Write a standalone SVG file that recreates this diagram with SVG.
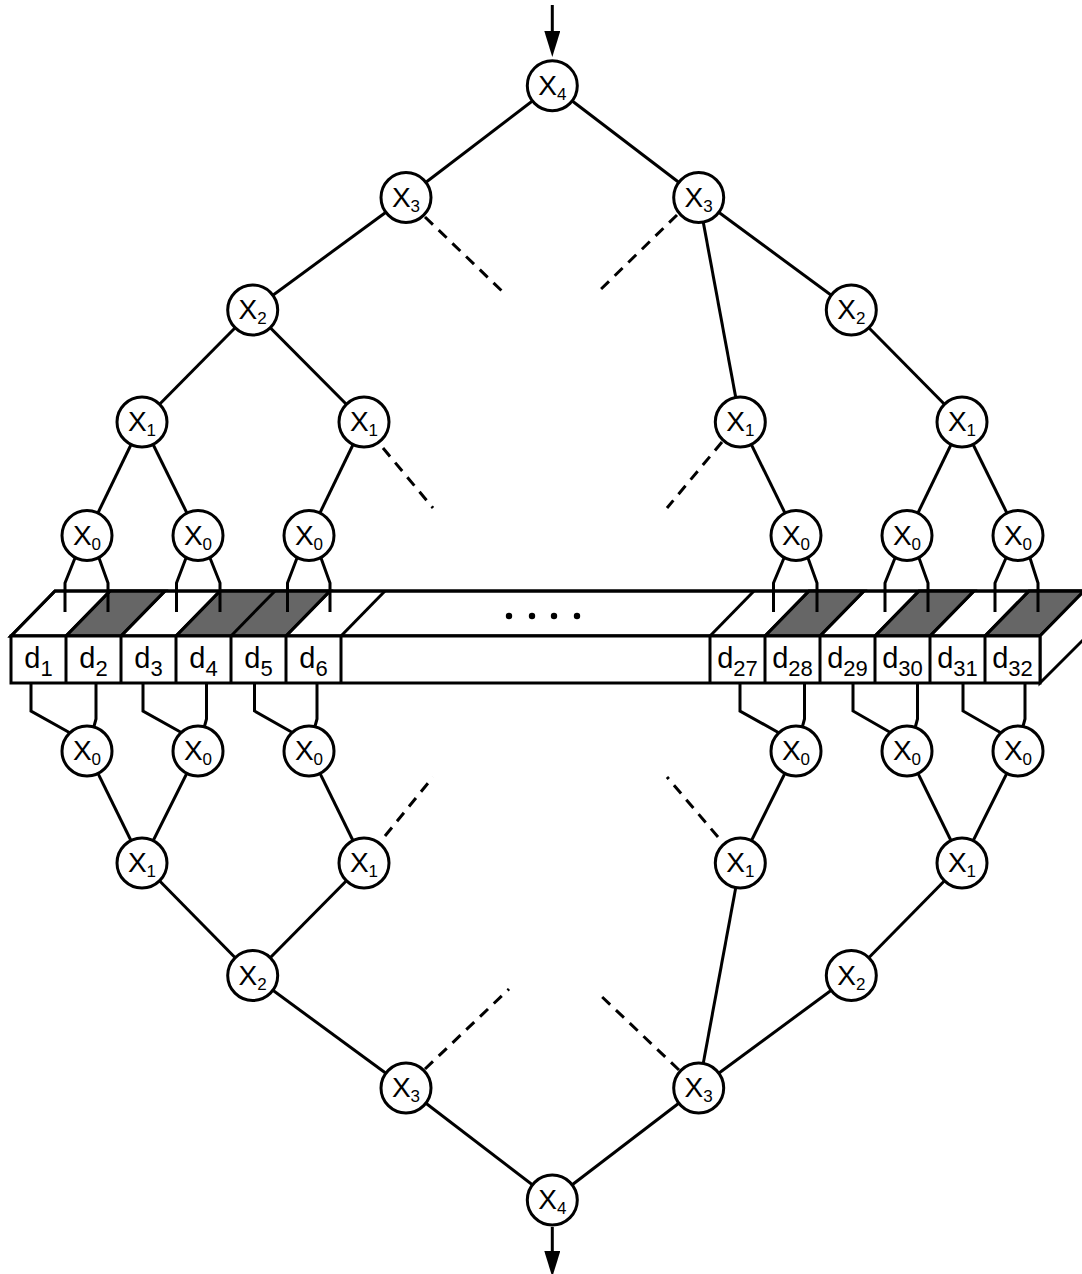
<svg xmlns="http://www.w3.org/2000/svg" width="1082" height="1274" viewBox="0 0 1082 1274">
<style>
.e line, .e polyline { stroke:#000; stroke-width:3; fill:none; }
.dash { stroke-dasharray:11 8; }
.n circle { fill:#fff; stroke:#000; stroke-width:3; }
.lbl { font-family:"Liberation Sans", Arial, Helvetica, sans-serif; font-size:28px; text-anchor:middle; fill:#000; }
.sub { font-size:17px; }
.reg polygon, .reg rect, .reg line { stroke:#000; stroke-width:3; stroke-linejoin:miter; }
.face { fill:#fff; }
.shade { fill:#666; }
.cl { font-family:"Liberation Sans", Arial, Helvetica, sans-serif; font-size:29px; text-anchor:middle; fill:#000; }
.cs { font-size:22px; }
</style>
<defs>
<marker id="ah" markerUnits="userSpaceOnUse" markerWidth="26" markerHeight="16" viewBox="0 0 26 16" refX="14" refY="8" orient="auto">
<path d="M0,0 L26,8 L0,16 z" fill="#000"/>
</marker>
</defs>

<g id="register" class="reg">
<polygon class="face" points="11,636 55,591 1084,591 1040,636"/>
<polygon class="shade" points="66,636 121,636 165,591 110,591"/>
<polygon class="shade" points="176,636 286,636 330,591 220,591"/>
<polygon class="shade" points="765,636 820,636 864,591 809,591"/>
<polygon class="shade" points="875,636 930,636 974,591 919,591"/>
<polygon class="shade" points="985,636 1040,636 1084,591 1029,591"/>
<polygon points="11,636 55,591 1084,591 1040,636" style="fill:none"/>
<line x1="66" y1="636" x2="110" y2="591"/>
<line x1="121" y1="636" x2="165" y2="591"/>
<line x1="176" y1="636" x2="220" y2="591"/>
<line x1="231" y1="636" x2="275" y2="591"/>
<line x1="286" y1="636" x2="330" y2="591"/>
<line x1="341" y1="636" x2="385" y2="591"/>
<line x1="710" y1="636" x2="754" y2="591"/>
<line x1="765" y1="636" x2="809" y2="591"/>
<line x1="820" y1="636" x2="864" y2="591"/>
<line x1="875" y1="636" x2="919" y2="591"/>
<line x1="930" y1="636" x2="974" y2="591"/>
<line x1="985" y1="636" x2="1029" y2="591"/>
<polygon class="face" points="1040,636 1084,591 1084,639 1040,683"/>
<rect class="face" x="11" y="636" width="1029" height="47"/>
<line x1="66" y1="636" x2="66" y2="683"/>
<line x1="121" y1="636" x2="121" y2="683"/>
<line x1="176" y1="636" x2="176" y2="683"/>
<line x1="231" y1="636" x2="231" y2="683"/>
<line x1="286" y1="636" x2="286" y2="683"/>
<line x1="341" y1="636" x2="341" y2="683"/>
<line x1="710" y1="636" x2="710" y2="683"/>
<line x1="765" y1="636" x2="765" y2="683"/>
<line x1="820" y1="636" x2="820" y2="683"/>
<line x1="875" y1="636" x2="875" y2="683"/>
<line x1="930" y1="636" x2="930" y2="683"/>
<line x1="985" y1="636" x2="985" y2="683"/>
<circle cx="509" cy="616" r="3.2" fill="#000"/>
<circle cx="532" cy="616" r="3.2" fill="#000"/>
<circle cx="554" cy="616" r="3.2" fill="#000"/>
<circle cx="577" cy="616" r="3.2" fill="#000"/>
<text class="cl" x="38.5" y="668">d<tspan class="cs" dy="8">1</tspan></text>
<text class="cl" x="93.5" y="668">d<tspan class="cs" dy="8">2</tspan></text>
<text class="cl" x="148.5" y="668">d<tspan class="cs" dy="8">3</tspan></text>
<text class="cl" x="203.5" y="668">d<tspan class="cs" dy="8">4</tspan></text>
<text class="cl" x="258.5" y="668">d<tspan class="cs" dy="8">5</tspan></text>
<text class="cl" x="313.5" y="668">d<tspan class="cs" dy="8">6</tspan></text>
<text class="cl" x="737.5" y="668">d<tspan class="cs" dy="8">27</tspan></text>
<text class="cl" x="792.5" y="668">d<tspan class="cs" dy="8">28</tspan></text>
<text class="cl" x="847.5" y="668">d<tspan class="cs" dy="8">29</tspan></text>
<text class="cl" x="902.5" y="668">d<tspan class="cs" dy="8">30</tspan></text>
<text class="cl" x="957.5" y="668">d<tspan class="cs" dy="8">31</tspan></text>
<text class="cl" x="1012.5" y="668">d<tspan class="cs" dy="8">32</tspan></text>
</g>

<g id="connectors" class="e">
<line x1="552.3" y1="5" x2="552.3" y2="45" marker-end="url(#ah)"/>
<line x1="552.3" y1="1227" x2="552.3" y2="1265" marker-end="url(#ah)"/>
<line x1="552.3" y1="85.7" x2="406" y2="197.5"/>
<line x1="552.3" y1="85.7" x2="698.7" y2="197.5"/>
<line x1="406" y1="197.5" x2="252.7" y2="310"/>
<line x1="698.7" y1="197.5" x2="851.3" y2="310"/>
<line x1="698.7" y1="197.5" x2="740.3" y2="422"/>
<line x1="252.7" y1="310" x2="142" y2="422"/>
<line x1="252.7" y1="310" x2="364" y2="422"/>
<line x1="851.3" y1="310" x2="962" y2="422"/>
<line x1="142" y1="422" x2="87" y2="535.5"/>
<line x1="142" y1="422" x2="198" y2="535.5"/>
<line x1="364" y1="422" x2="309" y2="535.5"/>
<line x1="740.3" y1="422" x2="796" y2="535.5"/>
<line x1="962" y1="422" x2="907" y2="535.5"/>
<line x1="962" y1="422" x2="1018" y2="535.5"/>
<line class="dash" x1="425" y1="217" x2="503" y2="292"/>
<line class="dash" x1="677" y1="215" x2="598" y2="292"/>
<line class="dash" x1="383" y1="448" x2="433" y2="508"/>
<line class="dash" x1="722" y1="442" x2="667" y2="508"/>
<polyline points="75,558 65,583 65,612"/>
<polyline points="99,558 108,583 108,612"/>
<polyline points="186,558 176.5,583 176.5,612"/>
<polyline points="210,558 220,583 220,612"/>
<polyline points="297,558 287.5,583 287.5,612"/>
<polyline points="321,558 330,583 330,612"/>
<polyline points="784,558 773.5,583 773.5,612"/>
<polyline points="808,558 817,583 817,612"/>
<polyline points="895,558 885,583 885,612"/>
<polyline points="919,558 928,583 928,612"/>
<polyline points="1006,558 995,583 995,612"/>
<polyline points="1030,558 1038,583 1038,612"/>
<polyline points="31,683 31,711 72,734"/>
<polyline points="96,683 96,719 93,730"/>
<polyline points="143,683 143,711 184,734"/>
<polyline points="206.5,683 206.5,719 203.5,730"/>
<polyline points="254.5,683 254.5,711 295,734"/>
<polyline points="317,683 317,719 314,730"/>
<polyline points="740,683 740,711 781,734"/>
<polyline points="804.5,683 804.5,719 801.5,730"/>
<polyline points="853,683 853,711 893,734"/>
<polyline points="917.5,683 917.5,719 914.5,730"/>
<polyline points="963,683 963,711 1003,734"/>
<polyline points="1025,683 1025,719 1022,730"/>
<line x1="87" y1="751" x2="142" y2="863"/>
<line x1="198" y1="751" x2="142" y2="863"/>
<line x1="309" y1="751" x2="364" y2="863"/>
<line x1="796" y1="751" x2="740.3" y2="863"/>
<line x1="907" y1="751" x2="962" y2="863"/>
<line x1="1018" y1="751" x2="962" y2="863"/>
<line x1="142" y1="863" x2="252.7" y2="975.5"/>
<line x1="364" y1="863" x2="252.7" y2="975.5"/>
<line x1="962" y1="863" x2="851.3" y2="975.5"/>
<line x1="252.7" y1="975.5" x2="406" y2="1088"/>
<line x1="851.3" y1="975.5" x2="698.7" y2="1088"/>
<line x1="740.3" y1="863" x2="698.7" y2="1088"/>
<line x1="406" y1="1088" x2="552.3" y2="1200"/>
<line x1="698.7" y1="1088" x2="552.3" y2="1200"/>
<line class="dash" x1="385" y1="836" x2="433" y2="777"/>
<line class="dash" x1="718" y1="837" x2="667" y2="777"/>
<line class="dash" x1="425" y1="1069" x2="509" y2="989"/>
<line class="dash" x1="679" y1="1070" x2="598" y2="993"/>
</g>

<g id="t_x4" class="n"><circle cx="552.3" cy="85.7" r="25"/><text class="lbl" x="552.3" y="94.8">X<tspan class="sub" dy="5">4</tspan></text></g>
<g id="t_x3a" class="n"><circle cx="406" cy="197.5" r="25"/><text class="lbl" x="406" y="206.6">X<tspan class="sub" dy="5">3</tspan></text></g>
<g id="t_x3b" class="n"><circle cx="698.7" cy="197.5" r="25"/><text class="lbl" x="698.7" y="206.6">X<tspan class="sub" dy="5">3</tspan></text></g>
<g id="t_x2a" class="n"><circle cx="252.7" cy="310" r="25"/><text class="lbl" x="252.7" y="319.1">X<tspan class="sub" dy="5">2</tspan></text></g>
<g id="t_x2b" class="n"><circle cx="851.3" cy="310" r="25"/><text class="lbl" x="851.3" y="319.1">X<tspan class="sub" dy="5">2</tspan></text></g>
<g id="t_x1a" class="n"><circle cx="142" cy="422" r="25"/><text class="lbl" x="142" y="431.1">X<tspan class="sub" dy="5">1</tspan></text></g>
<g id="t_x1b" class="n"><circle cx="364" cy="422" r="25"/><text class="lbl" x="364" y="431.1">X<tspan class="sub" dy="5">1</tspan></text></g>
<g id="t_x1c" class="n"><circle cx="740.3" cy="422" r="25"/><text class="lbl" x="740.3" y="431.1">X<tspan class="sub" dy="5">1</tspan></text></g>
<g id="t_x1d" class="n"><circle cx="962" cy="422" r="25"/><text class="lbl" x="962" y="431.1">X<tspan class="sub" dy="5">1</tspan></text></g>
<g id="t_x0a" class="n"><circle cx="87" cy="535.5" r="25"/><text class="lbl" x="87" y="544.6">X<tspan class="sub" dy="5">0</tspan></text></g>
<g id="t_x0b" class="n"><circle cx="198" cy="535.5" r="25"/><text class="lbl" x="198" y="544.6">X<tspan class="sub" dy="5">0</tspan></text></g>
<g id="t_x0c" class="n"><circle cx="309" cy="535.5" r="25"/><text class="lbl" x="309" y="544.6">X<tspan class="sub" dy="5">0</tspan></text></g>
<g id="t_x0d" class="n"><circle cx="796" cy="535.5" r="25"/><text class="lbl" x="796" y="544.6">X<tspan class="sub" dy="5">0</tspan></text></g>
<g id="t_x0e" class="n"><circle cx="907" cy="535.5" r="25"/><text class="lbl" x="907" y="544.6">X<tspan class="sub" dy="5">0</tspan></text></g>
<g id="t_x0f" class="n"><circle cx="1018" cy="535.5" r="25"/><text class="lbl" x="1018" y="544.6">X<tspan class="sub" dy="5">0</tspan></text></g>

<g id="b_x0a" class="n"><circle cx="87" cy="751" r="25"/><text class="lbl" x="87" y="760.1">X<tspan class="sub" dy="5">0</tspan></text></g>
<g id="b_x0b" class="n"><circle cx="198" cy="751" r="25"/><text class="lbl" x="198" y="760.1">X<tspan class="sub" dy="5">0</tspan></text></g>
<g id="b_x0c" class="n"><circle cx="309" cy="751" r="25"/><text class="lbl" x="309" y="760.1">X<tspan class="sub" dy="5">0</tspan></text></g>
<g id="b_x0d" class="n"><circle cx="796" cy="751" r="25"/><text class="lbl" x="796" y="760.1">X<tspan class="sub" dy="5">0</tspan></text></g>
<g id="b_x0e" class="n"><circle cx="907" cy="751" r="25"/><text class="lbl" x="907" y="760.1">X<tspan class="sub" dy="5">0</tspan></text></g>
<g id="b_x0f" class="n"><circle cx="1018" cy="751" r="25"/><text class="lbl" x="1018" y="760.1">X<tspan class="sub" dy="5">0</tspan></text></g>
<g id="b_x1a" class="n"><circle cx="142" cy="863" r="25"/><text class="lbl" x="142" y="872.1">X<tspan class="sub" dy="5">1</tspan></text></g>
<g id="b_x1b" class="n"><circle cx="364" cy="863" r="25"/><text class="lbl" x="364" y="872.1">X<tspan class="sub" dy="5">1</tspan></text></g>
<g id="b_x1c" class="n"><circle cx="740.3" cy="863" r="25"/><text class="lbl" x="740.3" y="872.1">X<tspan class="sub" dy="5">1</tspan></text></g>
<g id="b_x1d" class="n"><circle cx="962" cy="863" r="25"/><text class="lbl" x="962" y="872.1">X<tspan class="sub" dy="5">1</tspan></text></g>
<g id="b_x2a" class="n"><circle cx="252.7" cy="975.5" r="25"/><text class="lbl" x="252.7" y="984.6">X<tspan class="sub" dy="5">2</tspan></text></g>
<g id="b_x2b" class="n"><circle cx="851.3" cy="975.5" r="25"/><text class="lbl" x="851.3" y="984.6">X<tspan class="sub" dy="5">2</tspan></text></g>
<g id="b_x3a" class="n"><circle cx="406" cy="1088" r="25"/><text class="lbl" x="406" y="1097.1">X<tspan class="sub" dy="5">3</tspan></text></g>
<g id="b_x3b" class="n"><circle cx="698.7" cy="1088" r="25"/><text class="lbl" x="698.7" y="1097.1">X<tspan class="sub" dy="5">3</tspan></text></g>
<g id="b_x4" class="n"><circle cx="552.3" cy="1200" r="25"/><text class="lbl" x="552.3" y="1209.1">X<tspan class="sub" dy="5">4</tspan></text></g>
</svg>
